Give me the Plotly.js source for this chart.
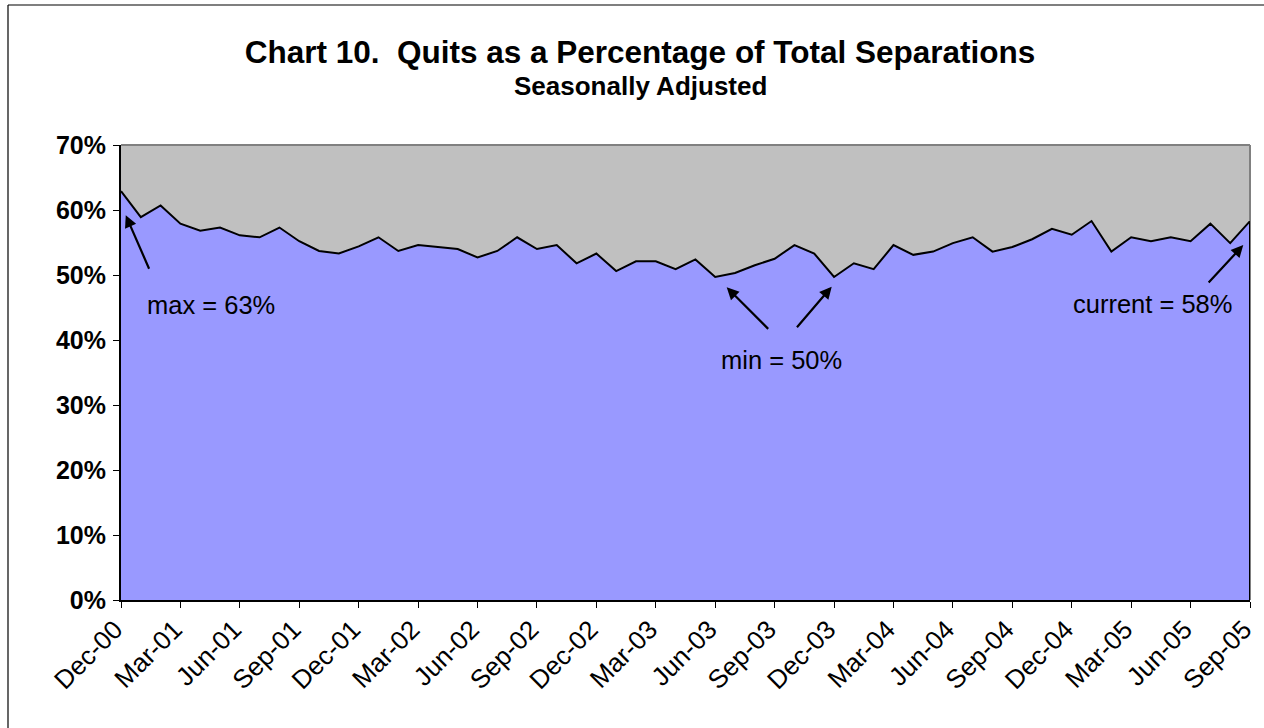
<!DOCTYPE html>
<html>
<head>
<meta charset="utf-8">
<script src="https://cdn.plot.ly/plotly-3.0.1.min.js"></script>
<style>
html,body{margin:0;padding:0;background:#fff;}
#chart{width:1264px;height:728px;}
</style>
</head>
<body>
<div id="chart"></div>
<script>
// ---- data ----
const months = [
  "Dec-00",
  "Jan-01","Feb-01","Mar-01","Apr-01","May-01","Jun-01","Jul-01","Aug-01","Sep-01","Oct-01","Nov-01","Dec-01",
  "Jan-02","Feb-02","Mar-02","Apr-02","May-02","Jun-02","Jul-02","Aug-02","Sep-02","Oct-02","Nov-02","Dec-02",
  "Jan-03","Feb-03","Mar-03","Apr-03","May-03","Jun-03","Jul-03","Aug-03","Sep-03","Oct-03","Nov-03","Dec-03",
  "Jan-04","Feb-04","Mar-04","Apr-04","May-04","Jun-04","Jul-04","Aug-04","Sep-04","Oct-04","Nov-04","Dec-04",
  "Jan-05","Feb-05","Mar-05","Apr-05","May-05","Jun-05","Jul-05","Aug-05","Sep-05"
];
const quitsPct = [
  62.9,
  58.9, 60.7, 57.9, 56.8, 57.3, 56.1, 55.8, 57.3, 55.2, 53.7, 53.3, 54.4,
  55.8, 53.7, 54.6, 54.3, 54.0, 52.7, 53.7, 55.8, 54.0, 54.6, 51.8, 53.3,
  50.6, 52.1, 52.1, 50.9, 52.4, 49.7, 50.3, 51.5, 52.5, 54.6, 53.3, 49.7,
  51.8, 50.9, 54.6, 53.1, 53.6, 54.9, 55.8, 53.6, 54.3, 55.5, 57.1, 56.2,
  58.3, 53.6, 55.8, 55.2, 55.8, 55.2, 57.9, 54.9, 58.3
];
const tickMonths = ["Dec-00","Mar-01","Jun-01","Sep-01","Dec-01","Mar-02","Jun-02","Sep-02","Dec-02",
  "Mar-03","Jun-03","Sep-03","Dec-03","Mar-04","Jun-04","Sep-04","Dec-04","Mar-05","Jun-05","Sep-05"];
const yTicks = [0,10,20,30,40,50,60,70];
const yTickText = ["0%","10%","20%","30%","40%","50%","60%","70%"];

const titleText = "Chart 10.\u00a0 Quits as a Percentage of Total Separations";
const subtitleText = "Seasonally Adjusted";
const maxLabel = "max = 63%";
const minLabel = "min = 50%";
const curLabel = "current = 58%";

// ---- chart ----
const FONT = "Arial, 'Liberation Sans', sans-serif";
const lastIdx = quitsPct.length - 1;

const trace = {
  x: months,
  y: quitsPct,
  type: "scatter",
  mode: "lines",
  fill: "tozeroy",
  fillcolor: "#9999FF",
  line: {color: "#000000", width: 2},
  hoverinfo: "x+y"
};

function arrow(xi, yv, ax, ay){
  return {x: xi, y: yv, xref: "x", yref: "y", ax: ax, ay: ay, showarrow: true,
    arrowhead: 2, arrowsize: 1.1, arrowwidth: 2.2, arrowcolor: "#000", text: ""};
}
function label(xi, yv, txt){
  return {x: xi, y: yv, xref: "x", yref: "y", text: txt, showarrow: false,
    font: {family: FONT, size: 25.5, color: "#000"}, xanchor: "center", yanchor: "middle"};
}

const layout = {
  width: 1264, height: 728,
  margin: {l: 121, r: 14, t: 145, b: 128},
  paper_bgcolor: "#ffffff",
  plot_bgcolor: "#C0C0C0",
  showlegend: false,
  font: {family: FONT, color: "#000"},
  title: {
    text: "<b>" + titleText + "</b>",
    font: {family: FONT, size: 31.5, color: "#000"},
    x: 640/1264, xref: "container", xanchor: "center",
    y: 1 - 52/728, yref: "container", yanchor: "middle"
  },
  xaxis: {
    type: "category",
    range: [0, lastIdx],
    tickmode: "array",
    tickvals: tickMonths,
    ticktext: tickMonths,
    tickangle: -45,
    ticks: "outside", ticklen: 6, tickwidth: 1, tickcolor: "#000",
    showline: true, linecolor: "#000", linewidth: 2,
    showgrid: false, zeroline: false,
    tickfont: {family: FONT, size: 26, color: "#000"},
    ticklabelshift: -6,
    ticklabelstandoff: -4,
    fixedrange: true
  },
  yaxis: {
    range: [0, 70],
    tickmode: "array",
    tickvals: yTicks,
    ticktext: yTickText,
    ticks: "outside", ticklen: 6, tickwidth: 1, tickcolor: "#000",
    showline: true, linecolor: "#000", linewidth: 2,
    showgrid: false, zeroline: false,
    tickfont: {family: FONT, size: 25, color: "#000", weight: "bold"},
    ticklabelstandoff: 2,
    fixedrange: true
  },
  shapes: [
    // outer chart border (left + top)
    {type: "line", xref: "paper", yref: "paper", x0: -113/1129, x1: -113/1129, y0: 1 + 140/455, y1: -0.5,
      line: {color: "#000", width: 1.2}},
    {type: "line", xref: "paper", yref: "paper", x0: -113/1129, x1: 1.2, y0: 1 + 140/455, y1: 1 + 140/455,
      line: {color: "#000", width: 1.2}},
    // plot area border (top + right), grey
    {type: "line", xref: "paper", yref: "paper", x0: 0, x1: 1, y0: 1, y1: 1, layer: "above",
      line: {color: "#808080", width: 2}},
    {type: "line", xref: "paper", yref: "paper", x0: 1, x1: 1, y0: 0, y1: 1, layer: "above",
      line: {color: "#808080", width: 2}},
    // area outline at right edge
    {type: "line", xref: "x", yref: "y", x0: lastIdx, x1: lastIdx, y0: 0, y1: quitsPct[lastIdx], layer: "above",
      line: {color: "#000", width: 2}}
  ],
  annotations: [
    {text: "<b>" + subtitleText + "</b>", xref: "paper", yref: "paper",
      x: (640-121)/1129, y: (600-86)/455, showarrow: false, xanchor: "center", yanchor: "middle",
      font: {family: FONT, size: 26, color: "#000"}},
    arrow(0.24, 59.2, 24, 55),
    label(4.54, 45.4, maxLabel),
    arrow(30.58, 48.1, 43, 43),
    arrow(35.88, 48.2, -36, 42),
    label(33.35, 36.9, minLabel),
    arrow(56.66, 54.6, -36, 39),
    label(52.08, 45.5, curLabel)
  ]
};

Plotly.newPlot("chart", [trace], layout, {displayModeBar: false, staticPlot: true});
</script>
</body>
</html>
